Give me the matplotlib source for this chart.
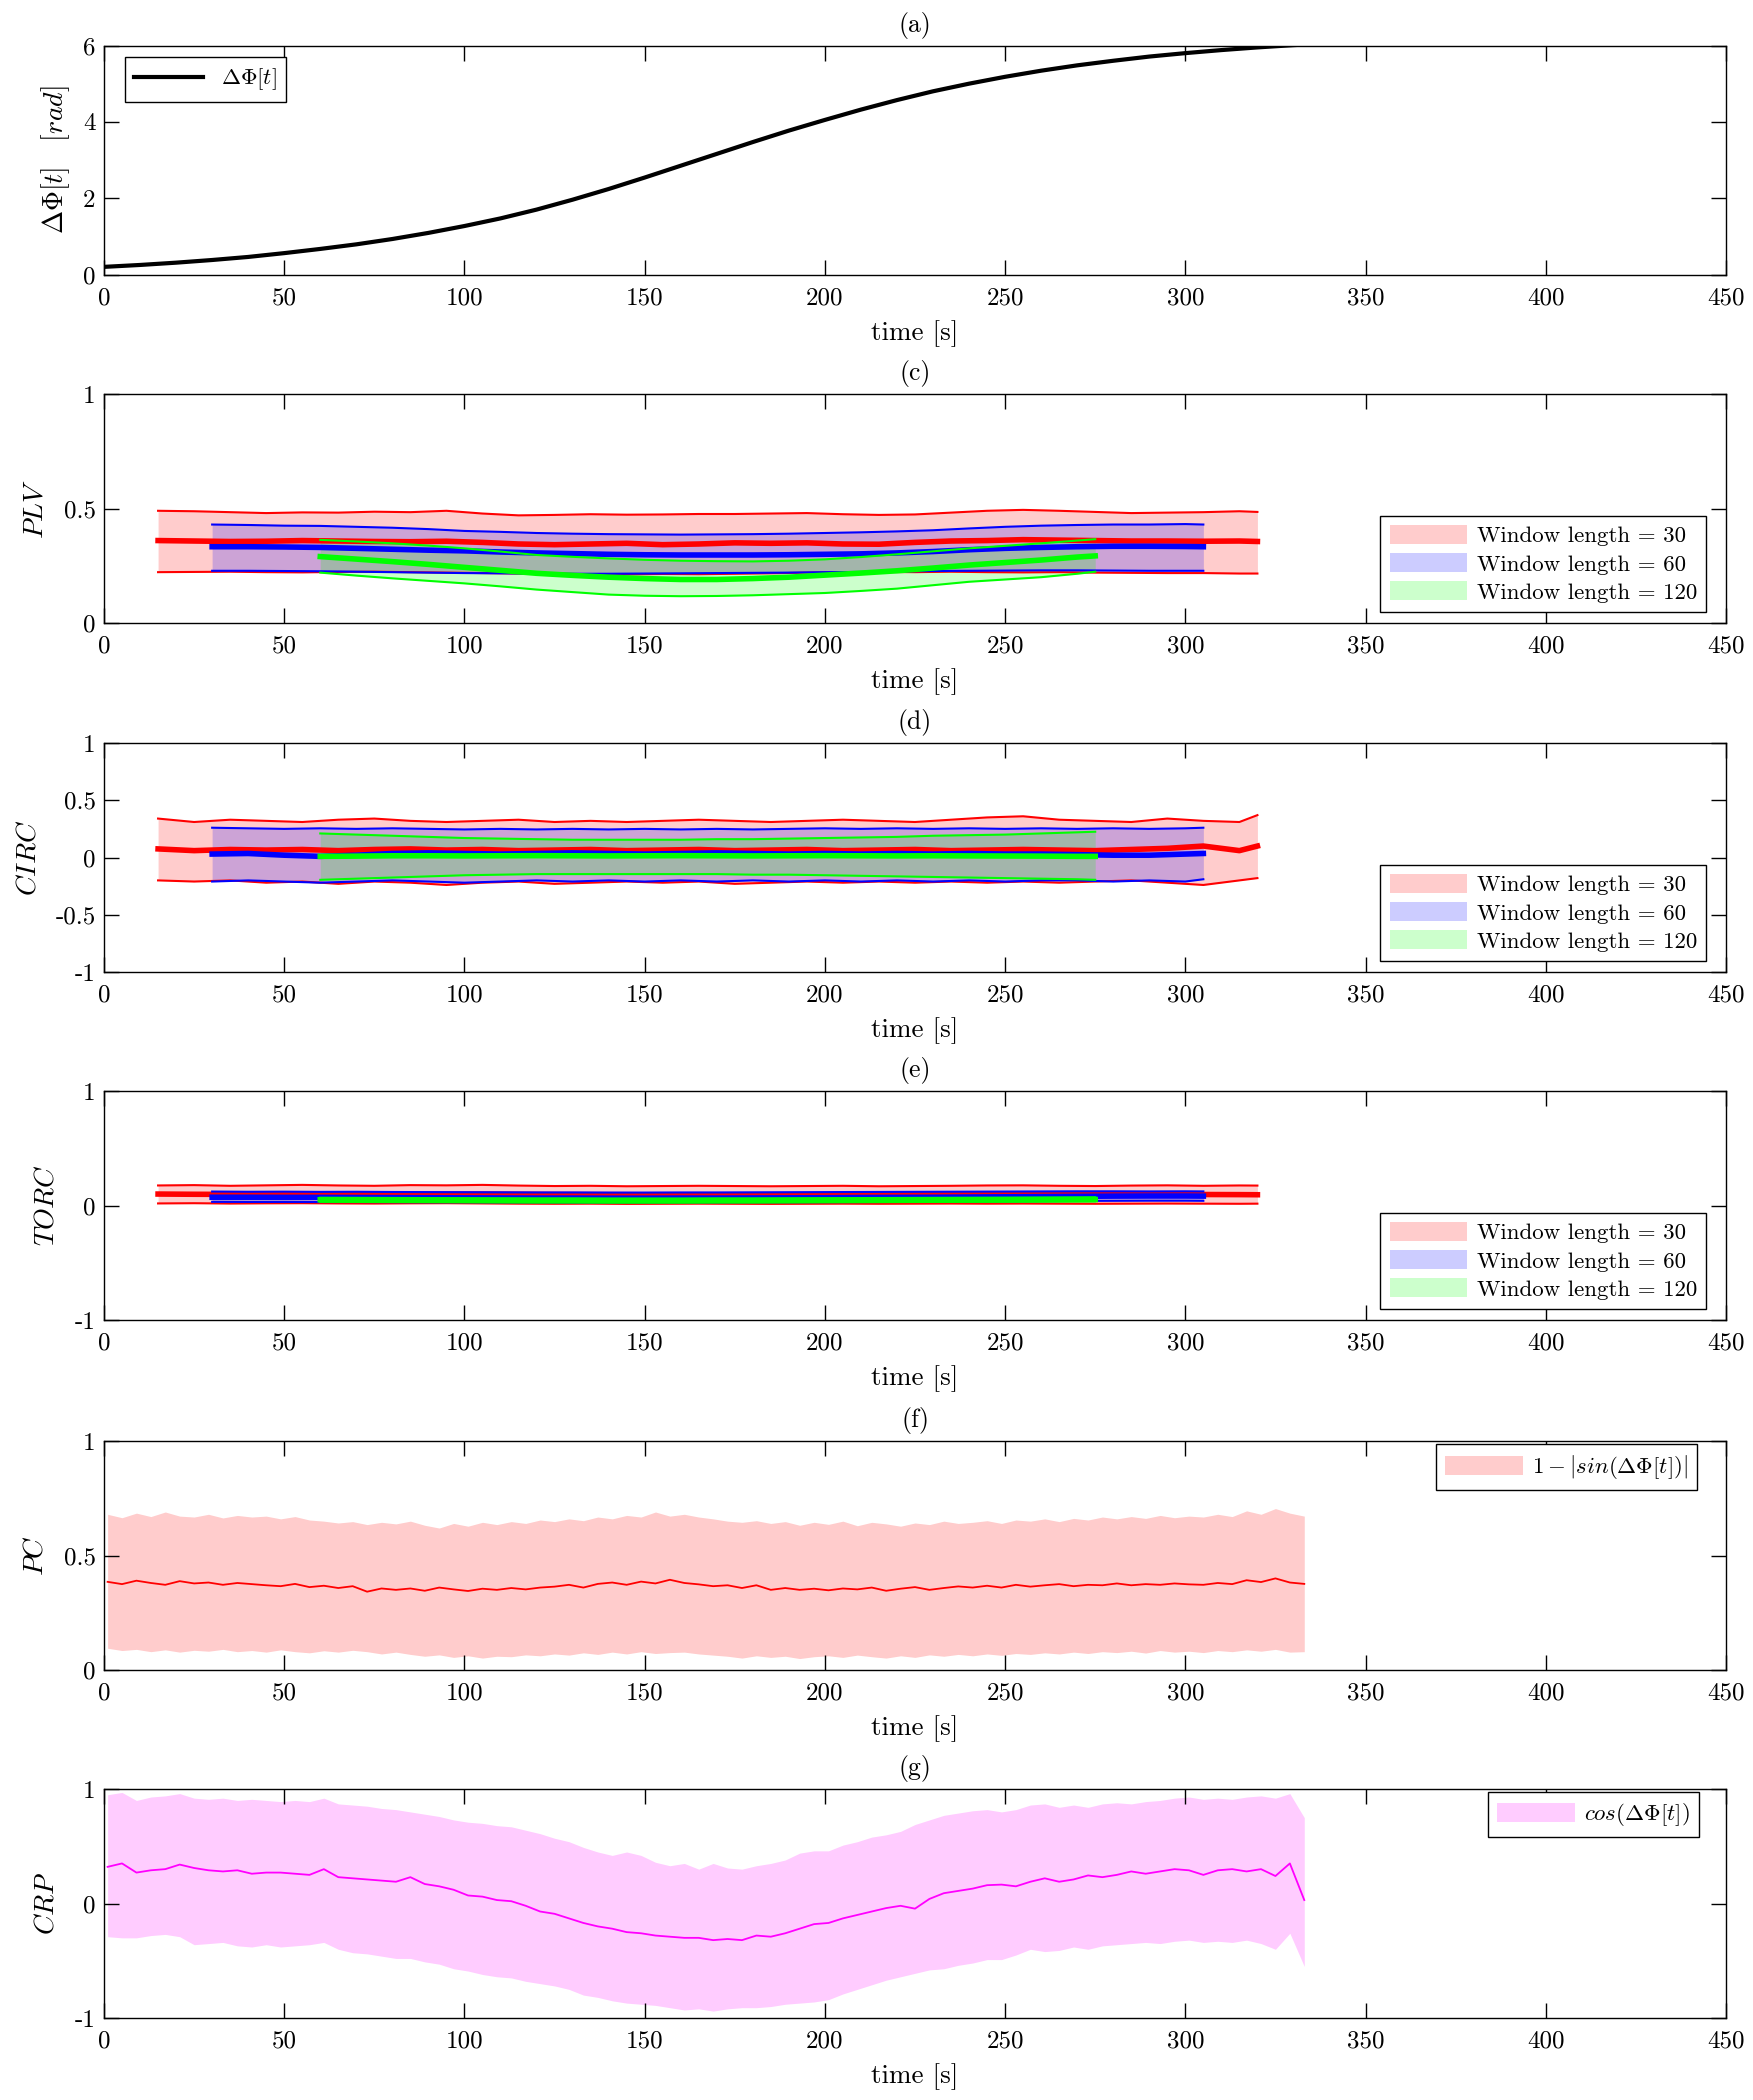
import numpy as np
import matplotlib
matplotlib.use('Agg')
import matplotlib.pyplot as plt
from matplotlib.patches import Patch

plt.rcParams['font.family'] = 'serif'
plt.rcParams['font.serif'] = ['cmr10']
plt.rcParams['mathtext.fontset'] = 'cm'
plt.rcParams['axes.unicode_minus'] = False

# ---- data ----
# (a) phase difference
t_phi = [0, 10, 20, 30, 40, 50, 60, 70, 80, 90, 100, 110, 120, 130, 140, 150, 160,
         170, 180, 190, 200, 210, 220, 230, 240, 250, 260, 270, 280, 290, 300, 310,
         320, 330, 334]
dphi = [0.20, 0.25, 0.31, 0.38, 0.46, 0.56, 0.67, 0.79, 0.93, 1.09, 1.27, 1.47, 1.70,
        1.96, 2.24, 2.54, 2.85, 3.16, 3.47, 3.77, 4.05, 4.32, 4.57, 4.80, 5.00, 5.18,
        5.34, 5.48, 5.60, 5.71, 5.80, 5.88, 5.95, 6.01, 6.03]

# window centres for the sliding-window measures
t30 = np.append(np.arange(15, 316, 10), 320)
t60 = np.append(np.arange(30, 301, 10), 305)
t120 = np.append(np.arange(60, 271, 10), 275)

# (c) PLV
plv30_hi = [0.49, 0.488, 0.484, 0.48, 0.483, 0.482, 0.486, 0.484, 0.49, 0.478,
            0.47, 0.472, 0.475, 0.473, 0.474, 0.476, 0.476, 0.478, 0.48, 0.475,
            0.472, 0.474, 0.482, 0.49, 0.494, 0.49, 0.485, 0.48, 0.482, 0.484,
            0.488, 0.485]
plv30_mid = [0.36, 0.358, 0.356, 0.357, 0.36, 0.358, 0.356, 0.355, 0.357, 0.352,
             0.345, 0.342, 0.345, 0.348, 0.342, 0.345, 0.35, 0.348, 0.35, 0.345,
             0.344, 0.352, 0.358, 0.36, 0.364, 0.362, 0.36, 0.358, 0.358, 0.357,
             0.358, 0.356]
plv30_lo = [0.222, 0.223, 0.224, 0.222, 0.221, 0.223, 0.224, 0.222, 0.22, 0.218,
            0.216, 0.215, 0.213, 0.212, 0.214, 0.213, 0.215, 0.217, 0.22, 0.222,
            0.223, 0.222, 0.224, 0.222, 0.221, 0.222, 0.22, 0.219, 0.218, 0.218,
            0.216, 0.216]
plv60_hi = [0.43, 0.428, 0.425, 0.424, 0.42, 0.416, 0.41, 0.402, 0.398, 0.393,
            0.39, 0.388, 0.387, 0.386, 0.387, 0.388, 0.39, 0.393, 0.396, 0.4,
            0.405, 0.413, 0.42, 0.425, 0.428, 0.43, 0.43, 0.432, 0.43]
plv60_mid = [0.333, 0.333, 0.332, 0.33, 0.326, 0.322, 0.318, 0.315, 0.31, 0.306,
             0.303, 0.3, 0.298, 0.297, 0.297, 0.297, 0.298, 0.3, 0.302, 0.306,
             0.312, 0.32, 0.326, 0.33, 0.333, 0.335, 0.335, 0.334, 0.333]
plv60_lo = [0.228, 0.228, 0.227, 0.226, 0.224, 0.222, 0.22, 0.218, 0.217, 0.216,
            0.215, 0.215, 0.216, 0.217, 0.218, 0.219, 0.22, 0.222, 0.223, 0.225,
            0.227, 0.228, 0.229, 0.23, 0.23, 0.229, 0.228, 0.228, 0.228]
plv120_hi = [0.363, 0.356, 0.348, 0.338, 0.326, 0.312, 0.297, 0.289, 0.282, 0.276,
             0.272, 0.27, 0.269, 0.272, 0.278, 0.288, 0.3, 0.313, 0.326, 0.337,
             0.348, 0.36, 0.366]
plv120_mid = [0.29, 0.279, 0.268, 0.256, 0.243, 0.23, 0.217, 0.208, 0.2, 0.194,
              0.19, 0.19, 0.194, 0.2, 0.209, 0.218, 0.228, 0.24, 0.253, 0.264,
              0.275, 0.288, 0.293]
plv120_lo = [0.22, 0.207, 0.195, 0.184, 0.173, 0.16, 0.146, 0.135, 0.124, 0.119,
             0.117, 0.118, 0.121, 0.126, 0.131, 0.14, 0.15, 0.165, 0.18, 0.19,
             0.2, 0.215, 0.224]

# (d) CIRC
circ30_hi = [0.34, 0.31, 0.33, 0.32, 0.31, 0.33, 0.34, 0.32, 0.31, 0.32,
             0.33, 0.31, 0.32, 0.31, 0.32, 0.33, 0.32, 0.31, 0.32, 0.33,
             0.32, 0.31, 0.33, 0.35, 0.36, 0.33, 0.32, 0.31, 0.34, 0.32,
             0.31, 0.37]
circ30_mid = [0.075, 0.06, 0.07, 0.065, 0.07, 0.06, 0.07, 0.075, 0.065, 0.07,
              0.06, 0.065, 0.07, 0.06, 0.065, 0.07, 0.06, 0.065, 0.07, 0.06,
              0.065, 0.07, 0.06, 0.065, 0.07, 0.065, 0.06, 0.07, 0.08, 0.1,
              0.06, 0.1]
circ30_lo = [-0.2, -0.21, -0.2, -0.22, -0.21, -0.23, -0.21, -0.22, -0.24, -0.22,
             -0.21, -0.23, -0.22, -0.21, -0.22, -0.21, -0.23, -0.22, -0.21, -0.22,
             -0.21, -0.22, -0.21, -0.22, -0.21, -0.22, -0.21, -0.2, -0.22, -0.24,
             -0.2, -0.18]
circ60_hi = [0.26, 0.255, 0.25, 0.255, 0.25, 0.255, 0.25, 0.245, 0.25, 0.245,
             0.25, 0.245, 0.25, 0.245, 0.25, 0.245, 0.25, 0.255, 0.25, 0.255,
             0.25, 0.255, 0.25, 0.255, 0.25, 0.255, 0.25, 0.255, 0.26]
circ60_mid = [0.03, 0.035, 0.02, 0.01, 0.02, 0.035, 0.04, 0.035, 0.03, 0.035,
              0.04, 0.035, 0.03, 0.035, 0.04, 0.035, 0.03, 0.035, 0.03, 0.035,
              0.03, 0.035, 0.03, 0.03, 0.025, 0.02, 0.02, 0.03, 0.035]
circ60_lo = [-0.21, -0.2, -0.21, -0.22, -0.21, -0.2, -0.21, -0.22, -0.21, -0.2,
             -0.21, -0.2, -0.21, -0.2, -0.21, -0.2, -0.21, -0.2, -0.21, -0.2,
             -0.21, -0.2, -0.21, -0.2, -0.2, -0.21, -0.2, -0.21, -0.19]
circ120_hi = [0.21, 0.2, 0.19, 0.18, 0.17, 0.165, 0.16, 0.155, 0.155, 0.155,
              0.155, 0.16, 0.16, 0.165, 0.17, 0.175, 0.18, 0.19, 0.195, 0.2,
              0.21, 0.22, 0.225]
circ120_mid = [0.01, 0.012, 0.015, 0.015, 0.014, 0.015, 0.016, 0.015, 0.014, 0.015,
               0.016, 0.015, 0.014, 0.015, 0.016, 0.015, 0.014, 0.015, 0.014, 0.013,
               0.012, 0.01, 0.01]
circ120_lo = [-0.195, -0.185, -0.175, -0.165, -0.155, -0.15, -0.145, -0.145, -0.145, -0.145,
              -0.145, -0.145, -0.15, -0.15, -0.155, -0.16, -0.165, -0.17, -0.175, -0.18,
              -0.185, -0.19, -0.195]

# (e) TORC
torc30_hi = [0.175, 0.178, 0.172, 0.176, 0.18, 0.175, 0.172, 0.178, 0.176, 0.18,
             0.174, 0.17, 0.172, 0.168, 0.17, 0.172, 0.17, 0.168, 0.17, 0.172,
             0.168, 0.17, 0.172, 0.175, 0.176, 0.172, 0.17, 0.174, 0.176, 0.172,
             0.175, 0.174]
torc30_mid = [0.1, 0.098, 0.097, 0.098, 0.099, 0.1, 0.098, 0.097, 0.099, 0.1,
              0.098, 0.096, 0.095, 0.094, 0.093, 0.094, 0.093, 0.092, 0.093, 0.094,
              0.093, 0.094, 0.095, 0.096, 0.097, 0.096, 0.095, 0.096, 0.097, 0.096,
              0.095, 0.094]
torc30_lo = [0.018, 0.02, 0.017, 0.019, 0.02, 0.018, 0.017, 0.019, 0.02, 0.018,
             0.016, 0.015, 0.016, 0.014, 0.015, 0.016, 0.015, 0.014, 0.015, 0.016,
             0.015, 0.016, 0.017, 0.016, 0.017, 0.016, 0.015, 0.016, 0.017, 0.016,
             0.015, 0.016]
torc60_hi = [0.122, 0.12, 0.121, 0.119, 0.12, 0.118, 0.117, 0.116, 0.115, 0.114,
             0.114, 0.113, 0.113, 0.114, 0.114, 0.115, 0.116, 0.117, 0.118, 0.119,
             0.12, 0.121, 0.122, 0.123, 0.124, 0.124, 0.123, 0.124, 0.123]
torc60_mid = [0.072, 0.072, 0.071, 0.071, 0.07, 0.069, 0.068, 0.067, 0.066, 0.065,
              0.065, 0.064, 0.064, 0.065, 0.065, 0.066, 0.067, 0.068, 0.07, 0.071,
              0.072, 0.074, 0.076, 0.078, 0.08, 0.082, 0.083, 0.083, 0.082]
torc60_lo = [0.032, 0.031, 0.031, 0.03, 0.03, 0.029, 0.028, 0.028, 0.027, 0.027,
             0.026, 0.026, 0.026, 0.027, 0.027, 0.028, 0.028, 0.029, 0.03, 0.031,
             0.032, 0.034, 0.036, 0.038, 0.04, 0.041, 0.042, 0.042, 0.041]
torc120_hi = [0.068, 0.067, 0.066, 0.065, 0.064, 0.063, 0.062, 0.062, 0.061, 0.061,
              0.061, 0.062, 0.062, 0.063, 0.064, 0.065, 0.066, 0.067, 0.068, 0.069,
              0.07, 0.071, 0.072]
torc120_mid = [0.05, 0.049, 0.048, 0.047, 0.046, 0.045, 0.044, 0.044, 0.043, 0.043,
               0.043, 0.044, 0.044, 0.045, 0.046, 0.046, 0.047, 0.048, 0.049, 0.05,
               0.051, 0.052, 0.052]
torc120_lo = [0.032, 0.031, 0.03, 0.029, 0.028, 0.027, 0.026, 0.026, 0.025, 0.025,
              0.025, 0.026, 0.026, 0.027, 0.028, 0.029, 0.03, 0.031, 0.032, 0.033,
              0.034, 0.035, 0.036]

# (f) PC and (g) CRP, sampled every 4 s
t_inst = np.arange(1, 334, 4)
pc_mid = [0.385, 0.375, 0.390, 0.380, 0.372, 0.388, 0.378, 0.382, 0.372, 0.380,
          0.375, 0.370, 0.366, 0.376, 0.362, 0.368, 0.358, 0.366, 0.342, 0.356,
          0.350, 0.356, 0.346, 0.360, 0.352, 0.345, 0.355, 0.350, 0.358, 0.352,
          0.360, 0.364, 0.372, 0.360, 0.376, 0.382, 0.372, 0.386, 0.378, 0.394,
          0.380, 0.374, 0.366, 0.370, 0.358, 0.370, 0.350, 0.358, 0.350, 0.355,
          0.348, 0.356, 0.352, 0.360, 0.346, 0.355, 0.362, 0.350, 0.358, 0.365,
          0.360, 0.368, 0.360, 0.372, 0.364, 0.370, 0.375, 0.366, 0.372, 0.370,
          0.378, 0.370, 0.375, 0.372, 0.378, 0.374, 0.372, 0.380, 0.375, 0.392,
          0.384, 0.400, 0.382, 0.376]
pc_hi = [0.680, 0.665, 0.685, 0.670, 0.690, 0.672, 0.668, 0.680, 0.664, 0.675,
         0.668, 0.672, 0.660, 0.670, 0.655, 0.650, 0.642, 0.648, 0.635, 0.645,
         0.638, 0.650, 0.632, 0.620, 0.640, 0.628, 0.645, 0.635, 0.648, 0.640,
         0.655, 0.648, 0.660, 0.652, 0.668, 0.660, 0.675, 0.668, 0.690, 0.672,
         0.680, 0.668, 0.660, 0.650, 0.645, 0.652, 0.640, 0.648, 0.632, 0.645,
         0.636, 0.650, 0.630, 0.645, 0.638, 0.628, 0.642, 0.635, 0.650, 0.640,
         0.645, 0.652, 0.640, 0.655, 0.650, 0.660, 0.648, 0.662, 0.655, 0.668,
         0.660, 0.670, 0.662, 0.675, 0.665, 0.672, 0.668, 0.680, 0.670, 0.695,
         0.680, 0.705, 0.685, 0.672]
pc_lo = [0.095, 0.085, 0.090, 0.080, 0.088, 0.078, 0.086, 0.082, 0.090, 0.080,
         0.085, 0.078, 0.088, 0.080, 0.075, 0.084, 0.078, 0.086, 0.080, 0.070,
         0.078, 0.068, 0.060, 0.066, 0.055, 0.062, 0.052, 0.060, 0.058, 0.066,
         0.062, 0.070, 0.065, 0.075, 0.068, 0.078, 0.070, 0.080, 0.072, 0.076,
         0.078, 0.070, 0.065, 0.060, 0.052, 0.062, 0.055, 0.060, 0.050, 0.058,
         0.062, 0.055, 0.065, 0.058, 0.052, 0.062, 0.055, 0.066, 0.060, 0.068,
         0.062, 0.070, 0.064, 0.072, 0.068, 0.075, 0.070, 0.078, 0.072, 0.080,
         0.076, 0.082, 0.074, 0.085, 0.078, 0.082, 0.076, 0.085, 0.080, 0.088,
         0.082, 0.090, 0.078, 0.080]
crp_mid = [0.32, 0.35, 0.27, 0.29, 0.30, 0.34, 0.31, 0.29, 0.28, 0.29,
           0.26, 0.27, 0.27, 0.26, 0.25, 0.30, 0.23, 0.22, 0.21, 0.20,
           0.19, 0.23, 0.17, 0.15, 0.12, 0.07, 0.06, 0.03, 0.02, -0.02,
           -0.07, -0.09, -0.13, -0.17, -0.20, -0.22, -0.25, -0.26, -0.28, -0.29,
           -0.30, -0.30, -0.32, -0.31, -0.32, -0.28, -0.29, -0.26, -0.22, -0.18,
           -0.17, -0.13, -0.10, -0.07, -0.04, -0.02, -0.045, 0.04, 0.09, 0.11,
           0.13, 0.16, 0.165, 0.15, 0.19, 0.22, 0.19, 0.21, 0.245, 0.23,
           0.25, 0.28, 0.26, 0.28, 0.30, 0.29, 0.25, 0.29, 0.30, 0.28,
           0.30, 0.24, 0.35, 0.03]
crp_hi = [0.95, 0.97, 0.90, 0.93, 0.94, 0.96, 0.92, 0.91, 0.92, 0.90,
          0.91, 0.90, 0.89, 0.90, 0.89, 0.92, 0.87, 0.86, 0.85, 0.83,
          0.82, 0.80, 0.78, 0.76, 0.73, 0.71, 0.70, 0.68, 0.67, 0.64,
          0.61, 0.57, 0.54, 0.49, 0.45, 0.42, 0.45, 0.42, 0.36, 0.33,
          0.35, 0.30, 0.35, 0.31, 0.30, 0.33, 0.35, 0.38, 0.44, 0.46,
          0.46, 0.51, 0.54, 0.58, 0.60, 0.63, 0.69, 0.73, 0.77, 0.79,
          0.81, 0.82, 0.80, 0.82, 0.86, 0.87, 0.84, 0.86, 0.84, 0.87,
          0.88, 0.87, 0.89, 0.90, 0.92, 0.93, 0.91, 0.92, 0.91, 0.93,
          0.94, 0.92, 0.96, 0.75]
crp_lo = [-0.29, -0.30, -0.30, -0.28, -0.27, -0.29, -0.36, -0.35, -0.34, -0.37,
          -0.38, -0.36, -0.38, -0.37, -0.36, -0.34, -0.40, -0.43, -0.44, -0.46,
          -0.48, -0.48, -0.51, -0.53, -0.57, -0.59, -0.62, -0.64, -0.65, -0.68,
          -0.70, -0.72, -0.75, -0.80, -0.82, -0.85, -0.87, -0.88, -0.89, -0.91,
          -0.93, -0.92, -0.94, -0.92, -0.91, -0.91, -0.90, -0.88, -0.87, -0.86,
          -0.84, -0.79, -0.75, -0.71, -0.67, -0.64, -0.61, -0.58, -0.57, -0.54,
          -0.52, -0.49, -0.49, -0.45, -0.40, -0.42, -0.41, -0.38, -0.40, -0.37,
          -0.36, -0.35, -0.34, -0.35, -0.33, -0.32, -0.34, -0.33, -0.34, -0.32,
          -0.35, -0.40, -0.26, -0.55]

win_labels = ['Window length = 30', 'Window length = 60', 'Window length = 120']
win_colors = [(1, 0, 0), (0, 0, 1), (0, 1, 0)]

LEG_FS = 16.5


def style_axis(ax, yticks, ylabels, ylim, title, ylabel, ypad=11):
    ax.set_xlim(0, 450)
    ax.set_ylim(*ylim)
    ax.set_xticks(np.arange(0, 451, 50))
    ax.set_xticklabels([str(v) for v in range(0, 451, 50)])
    ax.set_yticks(yticks)
    ax.set_yticklabels(ylabels)
    ax.tick_params(direction='in', top=True, right=True, length=11, width=1,
                   labelsize=18)
    ax.tick_params(axis='x', pad=9)
    ax.tick_params(axis='y', pad=6)
    for s in ax.spines.values():
        s.set_linewidth(1.0)
    ax.set_title(title, fontsize=18.5, pad=10)
    ax.set_xlabel('time [s]', fontsize=19.5, labelpad=8)
    ax.set_ylabel(ylabel, fontsize=20, labelpad=ypad)


def band(ax, t, lo, mid, hi, color):
    ax.fill_between(t, lo, hi, color=color, alpha=0.2, lw=0)
    ax.plot(t, hi, color=color, lw=1.5)
    ax.plot(t, lo, color=color, lw=1.5)
    ax.plot(t, mid, color=color, lw=4)


def boxed(leg):
    leg.get_frame().set_linewidth(1.0)


def win_legend(ax):
    handles = [Patch(facecolor=c, alpha=0.2, edgecolor='none') for c in win_colors]
    leg = ax.legend(handles, win_labels, loc='lower right',
                    bbox_to_anchor=(1 - 20 / 1622, 11 / 229), borderaxespad=0,
                    fontsize=LEG_FS, handlelength=3.4, handleheight=0.9,
                    handletextpad=0.4, labelspacing=0.3, borderpad=0.4,
                    fancybox=False, edgecolor='black', framealpha=1)
    boxed(leg)


fig = plt.figure(figsize=(17.53, 21.0), dpi=100)
left, width, height = 104 / 1753, 1622 / 1753, 229 / 2100
bottoms = [274.5, 623, 972, 1320, 1670, 2018]
axs = [fig.add_axes([left, 1 - b / 2100, width, height]) for b in bottoms]

# (a)
ax = axs[0]
ax.plot(t_phi, dphi, color='black', lw=3, label=r'$\Delta\Phi[t]$')
style_axis(ax, [0, 2, 4, 6], ['0', '2', '4', '6'], (0, 6), '(a)',
           r'$\Delta\Phi[t]\quad[rad]$', ypad=8)
boxed(ax.legend(loc='upper left', bbox_to_anchor=(21 / 1622, 1 - 12 / 229),
                borderaxespad=0, fontsize=LEG_FS, handlelength=3.0,
                fancybox=False, edgecolor='black', framealpha=1, borderpad=0.4))

# (c) PLV
ax = axs[1]
band(ax, t30, plv30_lo, plv30_mid, plv30_hi, win_colors[0])
band(ax, t60, plv60_lo, plv60_mid, plv60_hi, win_colors[1])
band(ax, t120, plv120_lo, plv120_mid, plv120_hi, win_colors[2])
style_axis(ax, [0, 0.5, 1], ['0', '0.5', '1'], (0, 1), '(c)', r'$PLV$')
win_legend(ax)

# (d) CIRC
ax = axs[2]
band(ax, t30, circ30_lo, circ30_mid, circ30_hi, win_colors[0])
band(ax, t60, circ60_lo, circ60_mid, circ60_hi, win_colors[1])
band(ax, t120, circ120_lo, circ120_mid, circ120_hi, win_colors[2])
style_axis(ax, [-1, -0.5, 0, 0.5, 1], ['-1', '-0.5', '0', '0.5', '1'], (-1, 1),
           '(d)', r'$CIRC$', ypad=10)
win_legend(ax)

# (e) TORC
ax = axs[3]
band(ax, t30, torc30_lo, torc30_mid, torc30_hi, win_colors[0])
band(ax, t60, torc60_lo, torc60_mid, torc60_hi, win_colors[1])
band(ax, t120, torc120_lo, torc120_mid, torc120_hi, win_colors[2])
style_axis(ax, [-1, 0, 1], ['-1', '0', '1'], (-1, 1), '(e)', r'$TORC$')
win_legend(ax)

# (f) PC
ax = axs[4]
ax.fill_between(t_inst, pc_lo, pc_hi, color=(1, 0, 0), alpha=0.2, lw=0,
                label=r'$1-|sin(\Delta\Phi[t])|$')
ax.plot(t_inst, pc_mid, color=(1, 0, 0), lw=1.3)
style_axis(ax, [0, 0.5, 1], ['0', '0.5', '1'], (0, 1), '(f)', r'$PC$')
boxed(ax.legend(loc='upper right', bbox_to_anchor=(1 - 29 / 1622, 1 - 3 / 229),
                borderaxespad=0, fontsize=LEG_FS, handlelength=3.4, handleheight=0.9,
                handletextpad=0.4, borderpad=0.4,
                fancybox=False, edgecolor='black', framealpha=1))

# (g) CRP
ax = axs[5]
ax.fill_between(t_inst, crp_lo, crp_hi, color=(1, 0, 1), alpha=0.2, lw=0,
                label=r'$cos(\Delta\Phi[t])$')
ax.plot(t_inst, crp_mid, color=(1, 0, 1), lw=1.3)
style_axis(ax, [-1, 0, 1], ['-1', '0', '1'], (-1, 1), '(g)', r'$CRP$')
boxed(ax.legend(loc='upper right', bbox_to_anchor=(1 - 27 / 1622, 1 - 3 / 229),
                borderaxespad=0, fontsize=LEG_FS, handlelength=3.4, handleheight=0.9,
                handletextpad=0.4, borderpad=0.4,
                fancybox=False, edgecolor='black', framealpha=1))

fig.savefig('out.png', dpi=100)
plt.close(fig)
